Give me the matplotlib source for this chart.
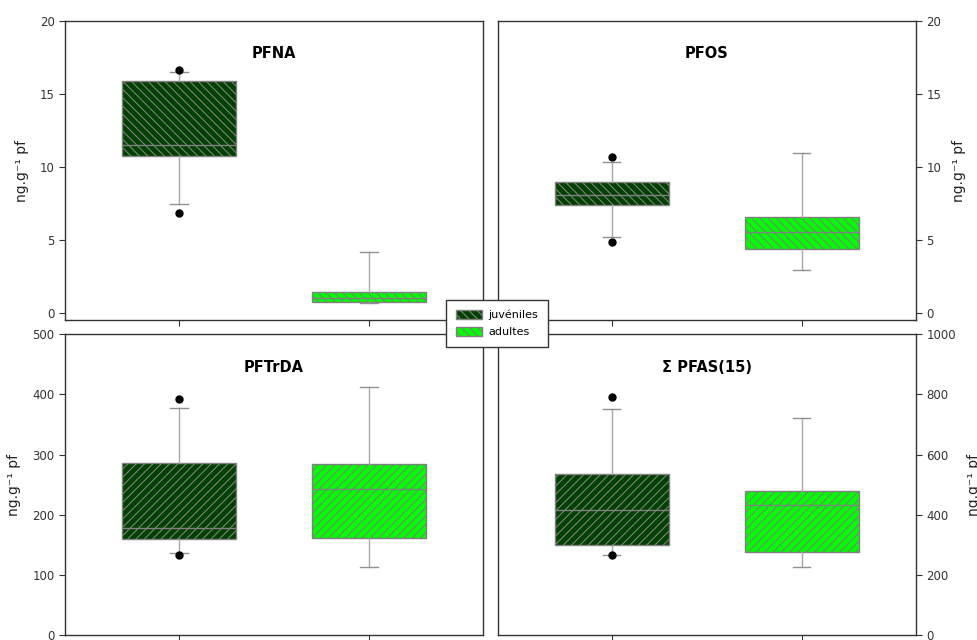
import numpy as np
import matplotlib
matplotlib.use("Agg")
import matplotlib.pyplot as plt
from matplotlib.patches import Patch

# -------------------------
# DATA
# -------------------------
groups = ["juvéniles", "adultes"]
panels = ["PFNA", "PFOS", "PFTrDA", "Σ PFAS(15)"]
ylims = [(-0.5, 20), (-0.5, 20), (0, 500), (0, 1000)]
yticks = [[0, 5, 10, 15, 20], [0, 5, 10, 15, 20],
          [0, 100, 200, 300, 400, 500], [0, 200, 400, 600, 800, 1000]]

whislo = [[7.44, 0.66], [5.2, 2.92], [137, 113.5], [267, 227]]
q1 = [[10.77, 0.73], [7.38, 4.36], [159, 160.6], [300, 276]]
med = [[11.48, 1.0], [8.1, 5.55], [178, 242.5], [414, 431]]
q3 = [[15.9, 1.39], [8.99, 6.58], [286, 285], [535, 478]]
whishi = [[16.5, 4.13], [10.32, 10.94], [378, 412.5], [752, 721]]
fliers = [[[6.87, 16.64], []], [[4.82, 10.66], []],
          [[133, 392], []], [[266, 791], []]]

colors = ["#004000", "#00ff00"]
hatches = ["\\" * 4, "\\" * 4, "/" * 4, "/" * 4]
ylabel = "ng.g⁻¹ pf"

plt.rcParams["font.family"] = ["DejaVu Sans"]
plt.rcParams["hatch.linewidth"] = 0.8

fig = plt.figure(figsize=(9.78, 6.4), dpi=100)
rects = [
    [0.0665, 0.500, 0.4274, 0.467],
    [0.509, 0.500, 0.4274, 0.467],
    [0.0665, 0.0078, 0.4274, 0.470],
    [0.509, 0.0078, 0.4274, 0.470],
]

for i, name in enumerate(panels):
    ax = fig.add_axes(rects[i])
    stats = []
    for g in range(2):
        stats.append(dict(whislo=whislo[i][g], q1=q1[i][g], med=med[i][g],
                          q3=q3[i][g], whishi=whishi[i][g],
                          fliers=fliers[i][g], label=groups[g]))
    bp = ax.bxp(stats, positions=[1, 2], widths=0.6, patch_artist=True,
                showfliers=True,
                boxprops=dict(edgecolor="#808080", linewidth=1.0),
                medianprops=dict(color="#808080", linewidth=1.0),
                whiskerprops=dict(color="#a8a8a8", linewidth=1.0),
                capprops=dict(color="#909090", linewidth=1.0),
                flierprops=dict(marker="o", markerfacecolor="black",
                                markeredgecolor="black", markersize=5))
    for g, box in enumerate(bp["boxes"]):
        box.set_facecolor(colors[g])
        box.set_hatch(hatches[i])
    for cap in bp["caps"]:
        c = np.mean(cap.get_xdata())
        cap.set_xdata([c - 0.045, c + 0.045])

    ax.set_xlim(0.4, 2.6)
    ax.set_ylim(*ylims[i])
    ax.set_yticks(yticks[i])
    ax.set_xticks([1, 2])
    ax.set_xticklabels([])
    ax.tick_params(direction="out", length=4, width=0.8, labelsize=8.5,
                   colors="#333333", labelcolor="#333333")
    if i % 2 == 1:
        ax.yaxis.tick_right()
        ax.yaxis.set_label_position("right")
    ax.set_ylabel(ylabel, fontsize=10, labelpad=8, color="#222222")
    for s in ax.spines.values():
        s.set_color("#333333")
        s.set_linewidth(1.0)
    ax.text(0.5, 0.89, name, transform=ax.transAxes, ha="center",
            va="center", fontsize=10.5, fontweight="bold")

# -------------------------
# LEGEND
# -------------------------
handles = [Patch(facecolor=colors[g], edgecolor="#808080", hatch="\\" * 4,
                 label=groups[g]) for g in range(2)]
leg = fig.legend(handles=handles, loc="center", bbox_to_anchor=(0.508, 0.4945),
                 fontsize=8, frameon=True, fancybox=False, framealpha=1,
                 edgecolor="#333333", handlelength=2.4, handleheight=0.9,
                 borderpad=0.9, labelspacing=0.55, handletextpad=0.55)
leg.get_frame().set_linewidth(1.0)
leg.set_zorder(10)

fig.savefig("out.png", dpi=100)
